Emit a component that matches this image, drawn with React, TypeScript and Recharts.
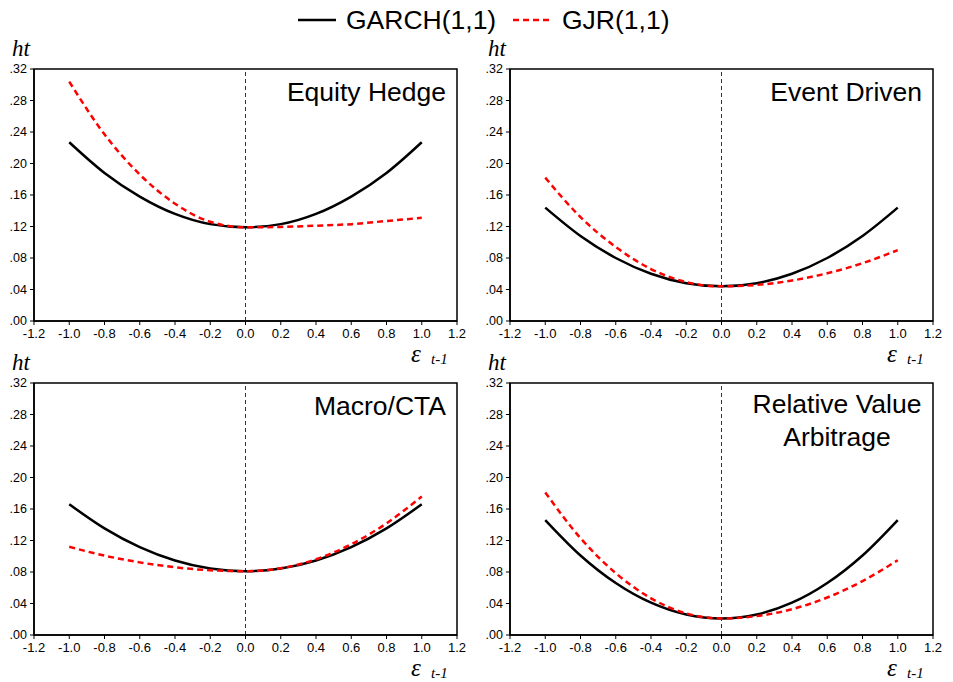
import React from 'react';
import { LineChart, Line, XAxis, YAxis, ReferenceLine, ReferenceArea } from 'recharts';

// shock values epsilon_{t-1}
const shocks = [-1.0, -0.8, -0.6, -0.4, -0.2, 0.0, 0.2, 0.4, 0.6, 0.8, 1.0];
const xTicks = [-1.2, -1.0, -0.8, -0.6, -0.4, -0.2, 0.0, 0.2, 0.4, 0.6, 0.8, 1.0, 1.2];
const yTicks = [0, 0.04, 0.08, 0.12, 0.16, 0.2, 0.24, 0.28, 0.32];

const seriesNames = ['GARCH(1,1)', 'GJR(1,1)'];

// Equity Hedge
const equityGarch = [0.227, 0.188, 0.158, 0.136, 0.123, 0.119, 0.123, 0.136, 0.158, 0.188, 0.227];
const equityGjr = [0.304, 0.237, 0.186, 0.149, 0.126, 0.119, 0.1195, 0.121, 0.123, 0.127, 0.131];
// Event Driven
const eventGarch = [0.144, 0.108, 0.08, 0.06, 0.048, 0.044, 0.048, 0.06, 0.08, 0.108, 0.144];
const eventGjr = [0.182, 0.132, 0.094, 0.066, 0.0495, 0.044, 0.0458, 0.0514, 0.0606, 0.0734, 0.09];
// Macro/CTA
const macroGarch = [0.166, 0.1354, 0.1116, 0.0946, 0.0844, 0.081, 0.0844, 0.0946, 0.1116, 0.1354, 0.166];
const macroGjr = [0.112, 0.1008, 0.0922, 0.086, 0.0822, 0.081, 0.0848, 0.0962, 0.1152, 0.1418, 0.176];
// Relative Value Arbitrage
const rvaGarch = [0.146, 0.101, 0.066, 0.041, 0.026, 0.021, 0.026, 0.041, 0.066, 0.101, 0.146];
const rvaGjr = [0.181, 0.123, 0.0786, 0.0466, 0.0274, 0.021, 0.024, 0.0328, 0.0476, 0.0684, 0.095];

const panelTitles = [['Equity Hedge'], ['Event Driven'], ['Macro/CTA'], ['Relative Value', 'Arbitrage']];

const build = (g: number[], j: number[]) => shocks.map((x, i) => ({ x, garch: g[i], gjr: j[i] }));

const SANS = '"Liberation Sans", Arial, sans-serif';
const SERIF = '"Liberation Serif", "Times New Roman", serif';

function XTick(props: any) {
  const { x, y, payload } = props;
  return (
    <text x={x} y={y + 11} textAnchor="middle" fontFamily={SANS} fontSize={13} fill="#000">
      {Number(payload.value).toFixed(1)}
    </text>
  );
}

function YTick(props: any) {
  const { x, y, payload } = props;
  return (
    <text x={x - 1} y={y + 4} textAnchor="end" fontFamily={SANS} fontSize={12.5} fill="#000">
      {Number(payload.value).toFixed(2).replace(/^0/, '')}
    </text>
  );
}

type PanelProps = {
  left: number;
  top: number;
  title: string[];
  garch: number[];
  gjr: number[];
  titleMode: 'right' | 'center';
};

const W = 470;
const H = 290;

function Panel({ left, top, title, garch, gjr, titleMode }: PanelProps) {
  const data = build(garch, gjr);
  return (
    <div style={{ position: 'absolute', left, top, width: W, height: H + 50, fontFamily: SANS }}>
      <LineChart width={W} height={H} data={data} margin={{ top: 9, right: 13, left: 0, bottom: 0 }}>
        <XAxis
          dataKey="x"
          type="number"
          domain={[-1.2, 1.2]}
          ticks={xTicks}
          interval={0}
          allowDataOverflow
          tick={<XTick />}
          tickSize={4}
          axisLine={{ stroke: '#000', strokeWidth: 1.5 }}
          tickLine={{ stroke: '#000' }}
          height={29}
        />
        <YAxis
          type="number"
          domain={[0, 0.32]}
          ticks={yTicks}
          interval={0}
          allowDataOverflow
          tick={<YTick />}
          tickSize={4}
          axisLine={{ stroke: '#000', strokeWidth: 1.5 }}
          tickLine={{ stroke: '#000' }}
          width={34}
        />
        <ReferenceArea x1={-1.2} x2={1.2} y1={0} y2={0.32} fill="none" fillOpacity={0} stroke="#000" strokeWidth={1.5} />
        <ReferenceLine x={0} stroke="#333" strokeDasharray="4 3" strokeWidth={1} />
        <Line
          dataKey="garch"
          name={seriesNames[0]}
          type="monotone"
          dot={false}
          stroke="#000"
          strokeWidth={2.5}
          isAnimationActive={false}
        />
        <Line
          dataKey="gjr"
          name={seriesNames[1]}
          type="monotone"
          dot={false}
          stroke="#ff0000"
          strokeWidth={2.5}
          strokeDasharray="6 4"
          isAnimationActive={false}
        />
      </LineChart>
      <svg
        width={W}
        height={H + 50}
        style={{ position: 'absolute', left: 0, top: 0, pointerEvents: 'none', overflow: 'visible' }}
      >
        {/* ht label */}
        <text x={12} y={-4} fontFamily={SERIF} fontStyle="italic" fontSize={23} fill="#000">
          ht
        </text>
        {/* epsilon label */}
        <text x={411} y={302} fontFamily={SERIF} fontStyle="italic" fontSize={25} fill="#000">
          ε
        </text>
        <text x={431} y={304} fontFamily={SERIF} fontStyle="italic" fontSize={15} fill="#000">
          t-1
        </text>
        {titleMode === 'right' ? (
          <text x={446} y={41} textAnchor="end" fontFamily={SANS} fontSize={26.5} fill="#000">
            {title[0]}
          </text>
        ) : (
          title.map((t, i) => (
            <text key={i} x={361} y={39 + i * 33} textAnchor="middle" fontFamily={SANS} fontSize={26.5} fill="#000">
              {t}
            </text>
          ))
        )}
      </svg>
    </div>
  );
}

function LegendBar() {
  return (
    <svg width={953} height={40} style={{ position: 'absolute', left: 0, top: 0 }}>
      <line x1={298} x2={336} y1={20} y2={20} stroke="#000" strokeWidth={2.5} />
      <text x={346} y={29} fontFamily={SANS} fontSize={26.5} fill="#000">
        {seriesNames[0]}
      </text>
      <line x1={513} x2={549} y1={20} y2={20} stroke="#ff0000" strokeWidth={2.5} strokeDasharray="6 4" />
      <text x={562} y={29} fontFamily={SANS} fontSize={26.5} fill="#000">
        {seriesNames[1]}
      </text>
    </svg>
  );
}

export default function App() {
  return (
    <div style={{ position: 'absolute', left: 0, top: 0, width: 953, height: 682, background: '#fff', overflow: 'hidden' }}>
      <LegendBar />
      <Panel left={0} top={60} title={panelTitles[0]} garch={equityGarch} gjr={equityGjr} titleMode="right" />
      <Panel left={476} top={60} title={panelTitles[1]} garch={eventGarch} gjr={eventGjr} titleMode="right" />
      <Panel left={0} top={374} title={panelTitles[2]} garch={macroGarch} gjr={macroGjr} titleMode="right" />
      <Panel left={476} top={374} title={panelTitles[3]} garch={rvaGarch} gjr={rvaGjr} titleMode="center" />
    </div>
  );
}
